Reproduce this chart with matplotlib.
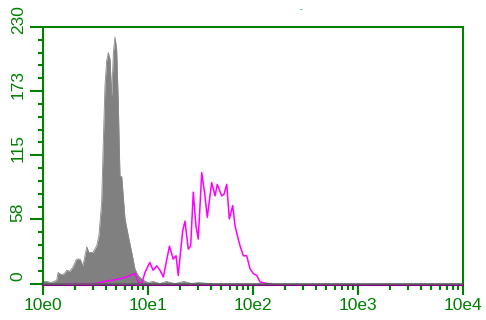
import matplotlib
matplotlib.use("Agg")
import matplotlib.pyplot as plt
import matplotlib.transforms as mtransforms
import numpy as np

# grey filled histogram (control)
grey_x = [1.0, 1.08, 1.2, 1.35, 1.39, 1.5, 1.6, 1.68, 1.8, 1.93, 2.09, 2.25, 2.4, 2.61,
          2.74, 2.99, 3.25, 3.41, 3.62, 3.73, 3.89, 4.04, 4.19, 4.35, 4.51, 4.68, 4.85,
          5.03, 5.21, 5.41, 5.62, 6.04, 6.49, 7.0, 7.52, 8.09, 9.02, 10.0, 11.2, 13.0,
          15.0, 18.0, 22.0, 26.0, 30.0, 40.0]
grey_y = [2, 2, 1, 3, 10, 8, 9, 12, 11, 15, 22, 22, 16, 33, 28, 28, 34, 43, 73, 118, 177,
          200, 207, 201, 168, 207, 221, 210, 162, 96, 96, 58, 43, 28, 13, 7, 3, 1, 2, 0,
          2, 0, 2, 0, 1, 0]

# magenta line (sample)
mag_x = [1.62, 2.25, 3.13, 3.89, 4.51, 5.41, 6.27, 6.74, 7.52, 8.09, 8.71, 9.36, 10.4,
         11.2, 12.1, 13.0, 14.0, 16.0, 17.4, 18.5, 19.4, 21.4, 22.5, 24.2, 25.5, 27.0,
         28.6, 30.1, 32.5, 34.9, 36.7, 40.4, 43.5, 45.7, 50.3, 52.9, 56.2, 59.5, 64.1,
         67.4, 72.4, 75.2, 80.9, 87.1, 93.6, 100.7, 108.4, 116.6, 125.4, 135.0, 150.7]
mag_y = [0, 0, 0, 2, 3, 4.5, 6, 7.4, 9, 1.5, 0, 10, 19, 12, 16, 12, 6, 33.6, 22, 25, 7.4,
         47.5, 56, 31, 34, 82, 52, 40, 99.5, 78.7, 59.4, 90.6, 78.7, 89, 78.7, 80, 89,
         58, 70, 52, 40, 34, 25, 25, 13.4, 9, 7.4, 1.5, 1, 0, 0]

ytick_vals = [0, 57.5, 115, 172.5, 230]
ytick_labels = ["0", "58", "115", "173", "230"]
xtick_vals = [1, 10, 100, 1000, 10000]
xtick_labels = ["10e0", "10e1", "10e2", "10e3", "10e4"]

green = "#008000"
plt.rcParams["font.family"] = ["Liberation Sans", "DejaVu Sans"]

fig = plt.figure(figsize=(4.86, 3.2), dpi=100)
ax = fig.add_axes([43 / 486, 35 / 320, 420 / 486, 258 / 320])

ax.fill_between(grey_x, grey_y, 0, color="#808080", linewidth=0, zorder=2)
ax.plot(grey_x, grey_y, color="#8a8a8a", linewidth=0.6, zorder=2)
ax.plot(mag_x, mag_y, color="#ff00ff", linewidth=1.1, zorder=3)
ax.axhline(0, color="#606060", linewidth=1.2, zorder=4)

ax.set_xscale("log")
ax.set_xlim(1, 10000)
ax.set_ylim(-1.2, 230)

ax.set_xticks(xtick_vals)
ax.set_xticklabels(xtick_labels)
ax.set_yticks(ytick_vals)
ax.set_yticklabels(ytick_labels, rotation=90, va="center")
ax.set_yticks(np.arange(0, 231, 11.5), minor=True)

for s in ax.spines.values():
    s.set_color(green)
    s.set_linewidth(1.5)
ax.spines["bottom"].set_color("#800080")

ax.tick_params(axis="both", which="major", colors=green, labelsize=12.5, width=1.5)
ax.tick_params(axis="x", which="major", length=7.5, pad=2)
ax.tick_params(axis="y", which="major", length=9.5, pad=3)
ax.tick_params(axis="both", which="minor", colors=green, width=1.5, length=3.6)

# y labels sit slightly above their ticks
offset = mtransforms.ScaledTranslation(0, 7 / 100, fig.dpi_scale_trans)
for lbl in ax.get_yticklabels():
    lbl.set_transform(lbl.get_transform() + offset)

fig.text(301 / 486, 1 - 10 / 320, "-", color=green, fontsize=6, ha="center", va="center")

fig.savefig("out.png", dpi=100)
